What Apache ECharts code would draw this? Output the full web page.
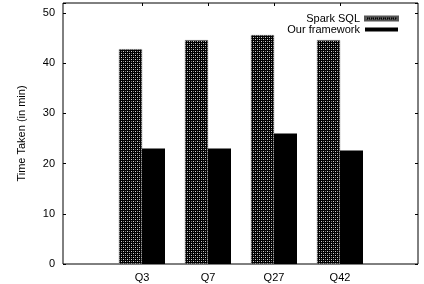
<!DOCTYPE html>
<html>
<head>
<meta charset="utf-8">
<script src="https://cdn.jsdelivr.net/npm/echarts@6/dist/echarts.min.js"></script>
<style>html,body{margin:0;padding:0;background:#fff}#c{width:424px;height:284px}</style>
</head>
<body>
<div id="c"></div>
<script>
const categories = ['Q3', 'Q7', 'Q27', 'Q42'];
const sparkSQL = [42.8, 44.6, 45.6, 44.6];
const ourFramework = [23.0, 23.0, 26.0, 22.6];
const yTicks = [0, 10, 20, 30, 40, 50];

const pc = document.createElement('canvas');
pc.width = 4; pc.height = 4;
const g = pc.getContext('2d');
g.fillStyle = '#000'; g.fillRect(0, 0, 4, 4);
g.fillStyle = '#d0d0d0'; g.fillRect(1, 1, 1, 1); g.fillRect(3, 3, 1, 1);
g.fillStyle = '#777'; g.fillRect(1, 3, 1, 1); g.fillRect(3, 1, 1, 1);

const font = 'Liberation Sans, Arial, sans-serif';
const chart = echarts.init(document.getElementById('c'), null, {renderer: 'canvas'});
const yCommon = {
  type: 'value', min: 0, max: 52, interval: 10,
  splitLine: {show: false},
  axisLine: {show: false}
};
chart.setOption({
  animation: false,
  textStyle: {fontFamily: font},
  grid: [
    {left: 63, right: 6, top: 3, bottom: 20, show: true, borderColor: '#000', borderWidth: 1, backgroundColor: 'transparent'},
    {left: 109, right: 51, top: 3, bottom: 20}
  ],
  legend: {
    orient: 'vertical', right: 20, top: 8, align: 'right',
    itemWidth: 33, itemHeight: 4, itemGap: 0,
    icon: 'rect',
    textStyle: {fontSize: 11, color: '#000', fontFamily: font, lineHeight: 10},
    data: ['Spark SQL', 'Our framework']
  },
  xAxis: [
    {gridIndex: 1, type: 'category', data: categories, position: 'bottom',
     axisLine: {show: false},
     axisTick: {show: true, inside: true, alignWithLabel: true, length: 3, lineStyle: {color: '#000'}},
     axisLabel: {color: '#000', fontSize: 11, margin: 8, fontFamily: font}},
    {gridIndex: 1, type: 'category', data: categories, position: 'top',
     axisLine: {show: false},
     axisTick: {show: true, inside: true, alignWithLabel: true, length: 3, lineStyle: {color: '#000'}},
     axisLabel: {show: false}},
    {gridIndex: 0, type: 'value', show: false}
  ],
  yAxis: [
    Object.assign({}, yCommon, {gridIndex: 0, position: 'left',
      name: 'Time Taken (in min)', nameLocation: 'middle', nameGap: 36,
      nameTextStyle: {fontSize: 11, color: '#000', fontFamily: font},
      axisTick: {show: true, inside: true, length: 3, lineStyle: {color: '#000'}},
      axisLabel: {color: '#000', fontSize: 11, margin: 8, fontFamily: font,
        formatter: v => (yTicks.indexOf(v) >= 0 ? String(v) : '')}}),
    Object.assign({}, yCommon, {gridIndex: 0, position: 'right',
      axisTick: {show: true, inside: true, length: 3, lineStyle: {color: '#000'}},
      axisLabel: {show: false}}),
    Object.assign({}, yCommon, {gridIndex: 1, show: false})
  ],
  series: [
    {name: 'Spark SQL', type: 'bar', xAxisIndex: 0, yAxisIndex: 2, data: sparkSQL,
     barWidth: 23, barGap: '0%',
     itemStyle: {color: {image: pc, repeat: 'repeat'}, borderColor: '#555', borderWidth: 0.5}},
    {name: 'Our framework', type: 'bar', xAxisIndex: 0, yAxisIndex: 2, data: ourFramework,
     barWidth: 23, barGap: '0%',
     itemStyle: {color: '#000'}}
  ]
});
</script>
</body>
</html>
